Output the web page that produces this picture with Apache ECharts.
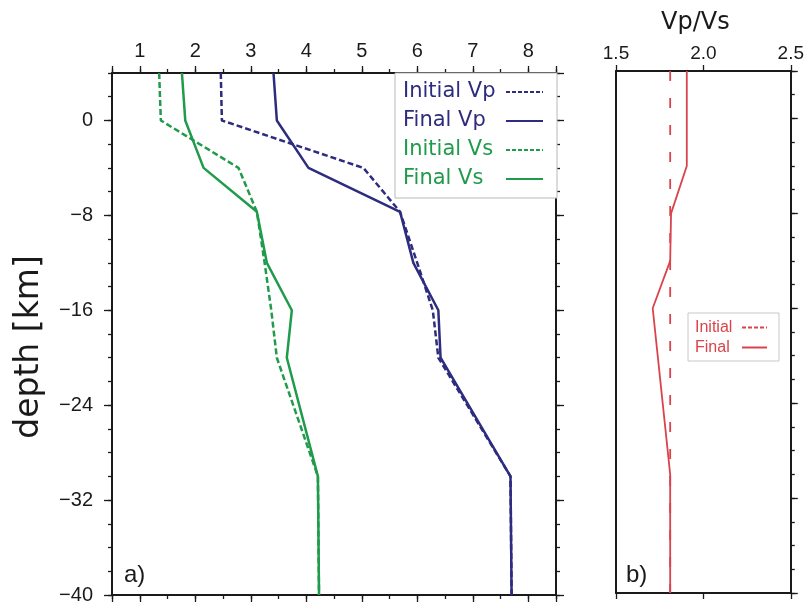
<!DOCTYPE html>
<html><head><meta charset="utf-8">
<script src="https://cdn.jsdelivr.net/npm/echarts@6/dist/echarts.min.js"></script>
<style>html,body{margin:0;padding:0;background:#fff}#c{width:807px;height:605px}</style>
</head><body><div id="c"></div>
<script>
// ---- data ----
const depthLeft  = [4, 0, -4, -7.7, -12, -16, -20, -30, -40];
const initialVp  = [2.46, 2.48, 5.03, 5.69, 6.00, 6.28, 6.38, 7.68, 7.70];
const finalVp    = [3.41, 3.47, 4.04, 5.69, 5.93, 6.38, 6.42, 7.68, 7.70];
const initialVs  = [1.35, 1.38, 2.78, 3.11, 3.25, 3.37, 3.47, 4.21, 4.23];
const finalVs    = [1.76, 1.82, 2.15, 3.11, 3.29, 3.74, 3.65, 4.21, 4.23];
const depthRatio   = [4, -4, -8, -12, -16, -30, -40];
const initialRatio = [1.81, 1.81, 1.81, 1.81, 1.81, 1.81, 1.81];
const finalRatio   = [1.905, 1.905, 1.815, 1.81, 1.71, 1.81, 1.81];
const velocityTicks = [1, 2, 3, 4, 5, 6, 7, 8];
const depthTicks    = [0, -8, -16, -24, -32, -40];
const ratioTicks    = [1.5, 2.0, 2.5];
const leftNames  = ['Initial Vp', 'Final Vp', 'Initial Vs', 'Final Vs'];
const rightNames = ['Initial', 'Final'];

const navy = '#2d2c7f', green = '#1f9b4b', red = '#d9434b';
const sans = 'Liberation Sans', wide = 'DejaVu Sans';
const zip = (xs, ys) => xs.map((v, i) => [v, ys[i]]);
const blk = '#1a1a1a';
const axLine = {show: true, onZero: false, lineStyle: {color: blk, width: 2}};
const noLine = {show: false, onZero: false};
const tick = (len) => ({show: true, inside: false, length: len, lineStyle: {color: blk, width: 1.3}});
const noLab = {show: false};

const chart = echarts.init(document.getElementById('c'), null, {renderer: 'canvas'});
chart.setOption({
  animation: false,
  backgroundColor: '#fff',
  grid: [
    {left: 112, top: 73, width: 444, height: 522},
    {left: 616, top: 71, width: 176, height: 522}
  ],
  xAxis: [
    {type: 'value', gridIndex: 0, position: 'top', min: 0.5, max: 8.5, splitNumber: 8,
     axisLine: axLine, axisTick: tick(7), splitLine: {show: false},
     axisLabel: {margin: 12, fontSize: 20, fontFamily: sans, color: blk,
       formatter: v => velocityTicks.includes(v) ? String(v) : ''}},
    {type: 'value', gridIndex: 0, position: 'top', min: 0.5, max: 8.5, interval: 0.5,
     axisLine: noLine, axisTick: tick(4), splitLine: {show: false}, axisLabel: noLab},
    {type: 'value', gridIndex: 0, position: 'bottom', min: 0.5, max: 8.5, splitNumber: 8,
     axisLine: axLine, axisTick: tick(7), splitLine: {show: false}, axisLabel: noLab},
    {type: 'value', gridIndex: 0, position: 'bottom', min: 0.5, max: 8.5, interval: 0.5,
     axisLine: noLine, axisTick: tick(4), splitLine: {show: false}, axisLabel: noLab},
    {type: 'value', gridIndex: 1, position: 'top', min: 1.5, max: 2.5, interval: 0.5,
     axisLine: axLine, axisTick: tick(6), splitLine: {show: false},
     name: 'Vp/Vs', nameLocation: 'middle', nameGap: 36,
     nameTextStyle: {fontSize: 24, fontFamily: wide, color: blk, padding: [0, 16, 0, 0]},
     axisLabel: {margin: 8, fontSize: 19, fontFamily: sans, color: blk,
       formatter: v => ratioTicks.includes(v) ? v.toFixed(1) : ''}},
    {type: 'value', gridIndex: 1, position: 'bottom', min: 1.5, max: 2.5, interval: 0.5,
     axisLine: axLine, axisTick: tick(6), splitLine: {show: false}, axisLabel: noLab}
  ],
  yAxis: [
    {type: 'value', gridIndex: 0, position: 'left', min: -40, max: 4, interval: 8,
     axisLine: axLine, axisTick: tick(8), splitLine: {show: false},
     name: 'depth [km]', nameLocation: 'middle', nameGap: 66, nameRotate: 90,
     nameTextStyle: {fontSize: 33, fontFamily: wide, color: blk, padding: [0, 26, 0, 0]},
     axisLabel: {margin: 19, fontSize: 20, fontFamily: sans, color: blk, showMaxLabel: false,
       formatter: v => depthTicks.includes(v) ? String(v).replace('-', '\u2212') : ''}},
    {type: 'value', gridIndex: 0, position: 'left', min: -40, max: 4, interval: 2,
     axisLine: noLine, axisTick: tick(4), splitLine: {show: false}, axisLabel: noLab},
    {type: 'value', gridIndex: 0, position: 'right', min: -40, max: 4, interval: 8,
     axisLine: axLine, axisTick: tick(8), splitLine: {show: false}, axisLabel: noLab},
    {type: 'value', gridIndex: 0, position: 'right', min: -40, max: 4, interval: 2,
     axisLine: noLine, axisTick: tick(4), splitLine: {show: false}, axisLabel: noLab},
    {type: 'value', gridIndex: 1, position: 'left', min: -40, max: 4, interval: 8,
     axisLine: axLine, axisTick: {show: false}, splitLine: {show: false}, axisLabel: noLab},
    {type: 'value', gridIndex: 1, position: 'right', min: -40, max: 4, interval: 8,
     axisLine: axLine, axisTick: tick(7), splitLine: {show: false}, axisLabel: noLab},
    {type: 'value', gridIndex: 1, position: 'right', min: -40, max: 4, interval: 2,
     axisLine: noLine, axisTick: tick(4), splitLine: {show: false}, axisLabel: noLab}
  ],
  legend: [
    {orient: 'vertical', left: 395, top: 73, padding: [8, 13, 8, 8],
     borderColor: '#b8b8b8', borderWidth: 1, backgroundColor: '#fff',
     align: 'right', itemWidth: 37, itemHeight: 14, itemGap: 7, selectedMode: false,
     itemStyle: {opacity: 0},
     formatter: n => '{t|' + n + '}',
     textStyle: {fontSize: 21, fontFamily: wide, lineHeight: 22,
       rich: {t: {width: 98, align: 'left', fontSize: 21, fontFamily: wide, lineHeight: 22}}},
     data: [
       {name: leftNames[0], textStyle: {color: navy}, lineStyle: {type: [4, 2]}},
       {name: leftNames[1], textStyle: {color: navy}},
       {name: leftNames[2], textStyle: {color: green}, lineStyle: {type: [4, 2]}},
       {name: leftNames[3], textStyle: {color: green}}
     ]},
    {orient: 'vertical', left: 688, top: 313, padding: [6, 11, 5, 7],
     borderColor: '#c8c8c8', borderWidth: 1, backgroundColor: '#fff',
     align: 'right', itemWidth: 25, itemHeight: 12, itemGap: 3, selectedMode: false,
     itemStyle: {opacity: 0},
     formatter: n => '{t|' + n + '}',
     textStyle: {fontSize: 16, fontFamily: sans, lineHeight: 17, color: red,
       rich: {t: {width: 42, align: 'left', fontSize: 16, fontFamily: sans, lineHeight: 17, color: red}}},
     data: [
       {name: rightNames[0], lineStyle: {type: [4, 2], width: 2}},
       {name: rightNames[1], lineStyle: {width: 2}}
     ]}
  ],
  series: [
    {name: leftNames[0], type: 'line', xAxisIndex: 0, yAxisIndex: 0, symbol: 'none',
     data: zip(initialVp, depthLeft), lineStyle: {color: navy, width: 2.5, type: [6, 3]}, itemStyle: {color: navy}},
    {name: leftNames[2], type: 'line', xAxisIndex: 0, yAxisIndex: 0, symbol: 'none',
     data: zip(initialVs, depthLeft), lineStyle: {color: green, width: 2.5, type: [6, 3]}, itemStyle: {color: green}},
    {name: leftNames[1], type: 'line', xAxisIndex: 0, yAxisIndex: 0, symbol: 'none',
     data: zip(finalVp, depthLeft), lineStyle: {color: navy, width: 2.5}, itemStyle: {color: navy}},
    {name: leftNames[3], type: 'line', xAxisIndex: 0, yAxisIndex: 0, symbol: 'none',
     data: zip(finalVs, depthLeft), lineStyle: {color: green, width: 2.5}, itemStyle: {color: green}},
    {name: rightNames[0], type: 'line', xAxisIndex: 4, yAxisIndex: 4, symbol: 'none',
     data: zip(initialRatio, depthRatio), lineStyle: {color: red, width: 1.8, type: [10, 17]}, itemStyle: {color: red}},
    {name: rightNames[1], type: 'line', xAxisIndex: 4, yAxisIndex: 4, symbol: 'none',
     data: zip(finalRatio, depthRatio), lineStyle: {color: red, width: 1.8}, itemStyle: {color: red}}
  ],
  graphic: [
    {type: 'text', left: 124, top: 563, style: {text: 'a)', fontSize: 24, fontFamily: sans, fill: blk}},
    {type: 'text', left: 626, top: 563, style: {text: 'b)', fontSize: 24, fontFamily: sans, fill: blk}}
  ]
});
</script></body></html>
